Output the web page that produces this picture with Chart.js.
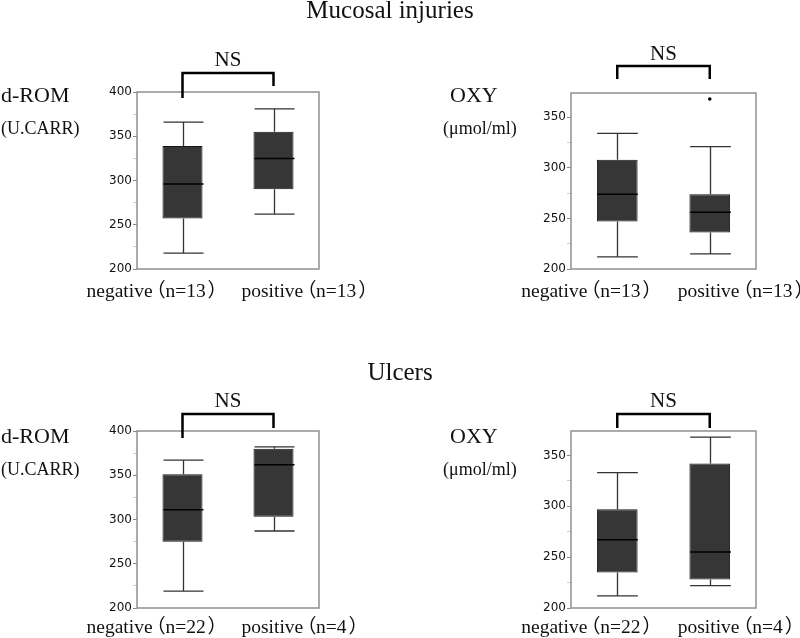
<!DOCTYPE html>
<html>
<head>
<meta charset="utf-8">
<script src="https://cdn.jsdelivr.net/npm/chart.js"></script>
<style>
  body { margin: 0; background: #fff; }
  #wrap { position: relative; width: 800px; height: 638px; overflow: hidden; }
  #wrap canvas { position: absolute; }
  .title {
    position: absolute; width: 400px; text-align: center;
    font: 25px "Liberation Serif", serif; line-height: 25px; color: #111;
  }
</style>
</head>
<body>
<div id="wrap">
  <canvas id="c1" width="400" height="320" style="left:0;top:0"></canvas>
  <canvas id="c2" width="400" height="320" style="left:400px;top:0"></canvas>
  <canvas id="c3" width="400" height="318" style="left:0;top:320px"></canvas>
  <canvas id="c4" width="400" height="318" style="left:400px;top:320px"></canvas>
  <div class="title" style="left:190px;top:-3px">Mucosal injuries</div>
  <div class="title" style="left:200px;top:359px">Ulcers</div>
</div>
<script>
// categories
const mucosalLabels = ['negative（n=13）', 'positive（n=13）'];
const ulcerLabels = ['negative（n=22）', 'positive（n=4）'];

// d-ROM, mucosal injuries
const dromMucMin = [218, 262];
const dromMucQ1 = [257, 290];
const dromMucMed = [296, 325];
const dromMucQ3 = [339, 355];
const dromMucMax = [366, 381];

// OXY, mucosal injuries
const oxyMucMin = [212, 215];
const oxyMucQ1 = [247, 236];
const oxyMucMed = [274, 256];
const oxyMucQ3 = [308, 274];
const oxyMucMax = [334, 321];
const oxyMucOutlier = [null, 368];

// d-ROM, ulcers
const dromUlcMin = [219, 287];
const dromUlcQ1 = [275, 303];
const dromUlcMed = [311, 362];
const dromUlcQ3 = [351, 380];
const dromUlcMax = [367, 382];

// OXY, ulcers
const oxyUlcMin = [212, 222];
const oxyUlcQ1 = [235, 228];
const oxyUlcMed = [267, 255];
const oxyUlcQ3 = [297, 342];
const oxyUlcMax = [333, 368];

const SERIF = '"Liberation Serif", "Noto Sans CJK JP", serif';
const LABEL_SIZE = 19.5;

// full-width brackets carry a lot of blank space, so pull them in a bit
function drawLabel(ctx, text, x, y, size) {
  text.split(/(（|）)/).forEach((part) => {
    if (!part) return;
    if (part === '（') x -= size * 0.32;
    if (part === '）') x += size * 0.1;
    ctx.fillText(part, x, y);
    x += ctx.measureText(part).width;
    if (part === '（') x -= size * 0.02;
  });
}

const boxExtras = {
  id: 'boxExtras',
  afterDatasetsDraw(chart, args, o) {
    const { ctx, chartArea: a, scales: { x, y } } = chart;
    const meta = chart.getDatasetMeta(0);
    ctx.save();

    // frame round the plot
    ctx.strokeStyle = '#909090';
    ctx.lineWidth = 1.5;
    ctx.strokeRect(a.left, a.top, a.right - a.left, a.bottom - a.top);

    // whiskers and medians
    meta.data.forEach((bar, i) => {
      const half = bar.width / 2;
      const cx = Math.round(bar.x) + 0.5;
      const yMin = y.getPixelForValue(o.mins[i]);
      const yMax = y.getPixelForValue(o.maxs[i]);
      const yQ1 = y.getPixelForValue(o.q1[i]);
      const yQ3 = y.getPixelForValue(o.q3[i]);
      const yMed = y.getPixelForValue(o.medians[i]);
      ctx.strokeStyle = '#333';
      ctx.lineWidth = 1.3;
      ctx.beginPath();
      ctx.moveTo(cx, yQ3); ctx.lineTo(cx, yMax);
      ctx.moveTo(cx - half, yMax); ctx.lineTo(cx + half, yMax);
      ctx.moveTo(cx, yQ1); ctx.lineTo(cx, yMin);
      ctx.moveTo(cx - half, yMin); ctx.lineTo(cx + half, yMin);
      ctx.stroke();
      ctx.strokeStyle = '#000';
      ctx.lineWidth = 1.5;
      ctx.beginPath();
      ctx.moveTo(cx - half, yMed); ctx.lineTo(cx + half, yMed);
      ctx.stroke();
    });

    // significance bracket
    const x0 = x.getPixelForValue(0);
    const x1 = x.getPixelForValue(1);
    const b = o.bracket;
    ctx.strokeStyle = '#000';
    ctx.lineWidth = 2.5;
    ctx.beginPath();
    ctx.moveTo(x0, a.top + b.leftLeg);
    ctx.lineTo(x0, a.top + b.bar);
    ctx.lineTo(x1, a.top + b.bar);
    ctx.lineTo(x1, a.top + b.rightLeg);
    ctx.stroke();
    ctx.fillStyle = '#111';
    ctx.font = '21px ' + SERIF;
    ctx.textAlign = 'center';
    ctx.textBaseline = 'alphabetic';
    ctx.fillText('NS', (x0 + x1) / 2, a.top + b.ns);

    // category labels under the plot
    ctx.font = LABEL_SIZE + 'px ' + SERIF;
    ctx.textAlign = 'left';
    chart.data.labels.forEach((lab, i) => {
      drawLabel(ctx, lab, x.getPixelForValue(i) + o.labelShift[i], a.bottom + o.labelBase, LABEL_SIZE);
    });

    // axis name
    ctx.font = '22px ' + SERIF;
    ctx.fillText(o.yName, o.yNameX, o.yNameBase);
    ctx.font = '18px ' + SERIF;
    ctx.fillText(o.yUnit, o.yUnitX, o.yNameBase + 32);
    ctx.restore();
  }
};

function makeBoxChart(id, labels, s, opt) {
  const datasets = [{
    data: s.q1.map((v, i) => [v, s.q3[i]]),
    backgroundColor: '#363636',
    borderColor: '#151515',
    borderWidth: 1,
    borderSkipped: false,
    barPercentage: 0.44,
    categoryPercentage: 1
  }];
  if (s.outliers) {
    datasets.push({
      type: 'line',
      data: s.outliers,
      showLine: false,
      pointRadius: 1.8,
      pointBackgroundColor: '#000',
      pointBorderWidth: 0
    });
  }
  return new Chart(document.getElementById(id), {
    type: 'bar',
    data: { labels: labels, datasets: datasets },
    plugins: [boxExtras],
    options: {
      responsive: false,
      animation: false,
      layout: { padding: opt.padding },
      plugins: {
        legend: { display: false },
        tooltip: { enabled: false },
        boxExtras: {
          mins: s.mins, maxs: s.maxs, q1: s.q1, q3: s.q3, medians: s.medians,
          bracket: opt.bracket,
          labelShift: [-96, -32],
          labelBase: opt.labelBase,
          yName: opt.yName, yUnit: opt.yUnit,
          yNameX: opt.yNameX, yUnitX: opt.yUnitX, yNameBase: opt.yNameBase
        }
      },
      scales: {
        x: { display: false, offset: true },
        y: {
          min: 200,
          max: opt.yMax,
          afterFit: (scale) => { scale.width = 45; },
          border: { display: false },
          grid: {
            drawOnChartArea: false,
            drawTicks: true,
            tickLength: 4,
            color: (c) => (c.tick && c.tick.value % 50 === 0 ? '#888' : '#ccc')
          },
          ticks: {
            stepSize: 25,
            includeBounds: false,
            padding: 1,
            color: '#111',
            font: { family: '"DejaVu Sans", sans-serif', size: 12 },
            callback: (v) => (v % 50 === 0 ? v : '')
          }
        }
      }
    }
  });
}

makeBoxChart('c1', mucosalLabels,
  { mins: dromMucMin, q1: dromMucQ1, medians: dromMucMed, q3: dromMucQ3, maxs: dromMucMax },
  { padding: { left: 92, right: 81, top: 92, bottom: 51 }, yMax: 400,
    bracket: { bar: -19, leftLeg: 6, rightLeg: -6, ns: -26 }, labelBase: 28,
    yName: 'd-ROM', yUnit: '(U.CARR)', yNameX: 1, yUnitX: 1, yNameBase: 102 });

makeBoxChart('c2', mucosalLabels,
  { mins: oxyMucMin, q1: oxyMucQ1, medians: oxyMucMed, q3: oxyMucQ3, maxs: oxyMucMax, outliers: oxyMucOutlier },
  { padding: { left: 126, right: 44, top: 93, bottom: 51 }, yMax: 374,
    bracket: { bar: -27, leftLeg: -14, rightLeg: -14, ns: -33 }, labelBase: 28,
    yName: 'OXY', yUnit: '(μmol/ml)', yNameX: 50, yUnitX: 43, yNameBase: 102 });

makeBoxChart('c3', ulcerLabels,
  { mins: dromUlcMin, q1: dromUlcQ1, medians: dromUlcMed, q3: dromUlcQ3, maxs: dromUlcMax },
  { padding: { left: 92, right: 81, top: 111, bottom: 30 }, yMax: 400,
    bracket: { bar: -17, leftLeg: 7, rightLeg: -3, ns: -24 }, labelBase: 25,
    yName: 'd-ROM', yUnit: '(U.CARR)', yNameX: 1, yUnitX: 1, yNameBase: 123 });

makeBoxChart('c4', ulcerLabels,
  { mins: oxyUlcMin, q1: oxyUlcQ1, medians: oxyUlcMed, q3: oxyUlcQ3, maxs: oxyUlcMax },
  { padding: { left: 126, right: 44, top: 111, bottom: 30 }, yMax: 374,
    bracket: { bar: -17, leftLeg: -3, rightLeg: -3, ns: -24 }, labelBase: 25,
    yName: 'OXY', yUnit: '(μmol/ml)', yNameX: 50, yUnitX: 43, yNameBase: 123 });
</script>
</body>
</html>
